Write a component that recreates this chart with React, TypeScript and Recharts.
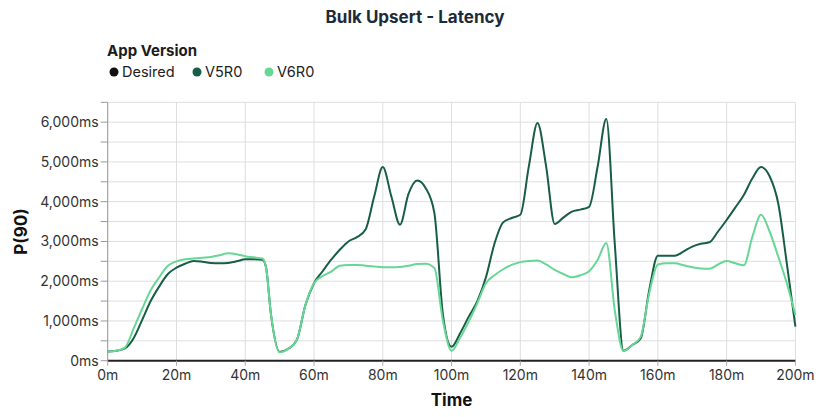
import React from 'react';
import { LineChart, Line, XAxis, YAxis, CartesianGrid } from 'recharts';

const times = [
  0, 2.5, 5, 7.5, 10, 12.5, 15, 17.5, 20, 22.5, 25, 27.5, 30, 32.5, 35, 37.5, 40, 42.5, 45, 46, 47.5,
  50, 52.5, 55, 57.5, 60, 62.5, 65, 67.5, 70, 72.5, 75, 77.5, 80, 82.5, 85, 87.5, 90, 92.5, 95, 97.5,
  100, 102.5, 105, 107.5, 110, 112.5, 115, 117.5, 120, 122.5, 125, 127.5, 130, 132.5, 135, 137.5, 140, 142.5, 145, 147.5,
  150, 152.5, 155, 157.5, 160, 162.5, 165, 167.5, 170, 172.5, 175, 177.5, 180, 182.5, 185, 187.5, 190, 192.5, 195, 197.5,
  200,
];

const v5r0 = [
  230, 250, 310, 560, 1020, 1500, 1870, 2180, 2340, 2440, 2510, 2490, 2455, 2450, 2460, 2500, 2550, 2550, 2540, 2370, 1150,
  220, 300, 520, 1400, 1950, 2250, 2540, 2790, 3000, 3110, 3300, 4130, 4870, 4130, 3420, 4200, 4530, 4340, 3720, 1150,
  350, 690, 1108, 1500, 2100, 2950, 3480, 3590, 3670, 4900, 5980, 4890, 3440, 3600, 3750, 3800, 3870, 4890, 6080, 2900,
  250, 390, 560, 1780, 2640, 2640, 2640, 2750, 2870, 2940, 2980, 3250, 3540, 3850, 4170, 4590, 4870, 4640, 3960, 2450,
  860,
];

const v6r0 = [
  230, 250, 330, 800, 1300, 1770, 2100, 2390, 2500, 2550, 2570, 2590, 2610, 2650, 2700, 2680, 2630, 2600, 2570, 2370, 1150,
  210, 300, 520, 1400, 1950, 2130, 2240, 2390, 2410, 2410, 2390, 2370, 2350, 2350, 2360, 2390, 2430, 2440, 2330, 1000,
  250, 575, 982, 1450, 1950, 2150, 2300, 2410, 2480, 2510, 2520, 2420, 2285, 2180, 2100, 2150, 2250, 2540, 2960, 1250,
  240, 390, 600, 1700, 2420, 2450, 2450, 2400, 2350, 2320, 2310, 2420, 2510, 2450, 2400, 3120, 3670, 3250, 2620, 1950,
  1150,
];

const xTicks = [0, 20, 40, 60, 80, 100, 120, 140, 160, 180, 200];
const yTicks = [0, 500, 1000, 1500, 2000, 2500, 3000, 3500, 4000, 4500, 5000, 5500, 6000, 6500];

const legendItems = [
  { name: 'Desired', color: '#111111' },
  { name: 'V5R0', color: '#175e45' },
  { name: 'V6R0', color: '#67d796' },
];

const data = times.map((t, i) => ({ t, V5R0: v5r0[i], V6R0: v6r0[i] }));

const FONT = 'Inter, "Noto Sans", sans-serif';

export default function App() {
  const W = 830;
  const H = 409;
  return (
    <div style={{ position: 'relative', width: W, height: H, fontFamily: FONT }}>
      <LineChart
        width={W}
        height={H}
        data={data}
        margin={{ top: 94.3, right: 42.6, left: 9.7, bottom: 26.3 }}
      >
        <CartesianGrid stroke="#dedede" strokeWidth={1} />
        <XAxis
          dataKey="t"
          type="number"
          domain={[0, 200]}
          ticks={xTicks}
          tickFormatter={(v) => `${v}m`}
          height={30}
          axisLine={{ stroke: '#222', strokeWidth: 2 }}
          tickLine={{ stroke: '#aaa' }}
          tickSize={5}
          tickMargin={4}
          tick={{ fill: '#333', fontSize: 14, fontFamily: FONT }}
          interval={0}
        />
        <YAxis
          type="number"
          domain={[0, 6500]}
          ticks={yTicks}
          width={90}
          tickFormatter={(v) => (v % 1000 === 0 ? `${v.toLocaleString('en-US')}ms` : '')}
          axisLine={{ stroke: '#999' }}
          tickLine={{ stroke: '#999' }}
          tickSize={7}
          tickMargin={2}
          tick={{ fill: '#333', fontSize: 14, fontFamily: FONT }}
          interval={0}
        />
        <Line
          type="monotoneX"
          dataKey="V5R0"
          stroke="#175e45"
          strokeWidth={2}
          dot={false}
          isAnimationActive={false}
        />
        <Line
          type="monotoneX"
          dataKey="V6R0"
          stroke="#67d796"
          strokeWidth={2}
          dot={false}
          isAnimationActive={false}
        />
      </LineChart>
      <svg
        width={W}
        height={H}
        style={{ position: 'absolute', left: 0, top: 0, pointerEvents: 'none' }}
      >
        <text x={407} y={15} textAnchor="middle" fontSize={17} fontWeight={700} fill="#1c2b38" fontFamily={FONT}>
          Bulk Upsert - Latency
        </text>
        <text x={99} y={48} fontSize={15} fontWeight={700} fill="#1c1c1c" fontFamily={FONT}>
          App Version
        </text>
        {legendItems.map((it, i) => {
          const xs = [106, 189, 261];
          return (
            <g key={it.name}>
              <circle cx={xs[i]} cy={64} r={4.5} fill={it.color} />
              <text x={xs[i] + 8} y={69} fontSize={14.5} fill="#222" fontFamily={FONT}>
                {it.name}
              </text>
            </g>
          );
        })}
        <text
          x={13}
          y={223.5}
          transform="rotate(-90 13 223.5)"
          textAnchor="middle"
          dominantBaseline="central"
          fontSize={17}
          fontWeight={700}
          fill="#111"
          fontFamily={FONT}
        >
          P(90)
        </text>
        <text x={443.5} y={398} textAnchor="middle" fontSize={17} fontWeight={700} fill="#111" fontFamily={FONT}>
          Time
        </text>
      </svg>
    </div>
  );
}
